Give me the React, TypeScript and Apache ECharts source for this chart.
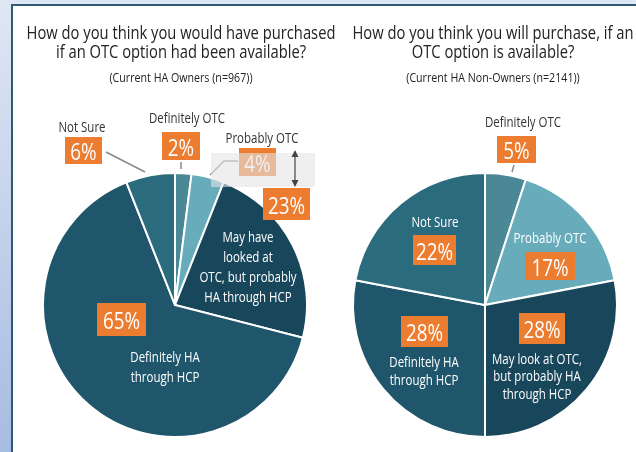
import React, { useEffect, useRef } from "react";
import * as echarts from "echarts";

// ---- data ----
const leftTitle = ["How do you think you would have purchased", "if an OTC option had been available?"];
const leftSubtitle = "(Current HA Owners (n=967))";
const rightTitle = ["How do you think you will purchase, if an", "OTC option is available?"];
const rightSubtitle = "(Current HA Non-Owners (n=2141))";

const leftNames = [
  "Definitely OTC",
  "Probably OTC",
  "May have\nlooked at\nOTC, but probably\nHA through HCP",
  "Definitely HA\nthrough HCP",
  "Not Sure",
];
const leftValues = [2, 4, 23, 65, 6];

const rightNames = [
  "Definitely OTC",
  "Probably OTC",
  "May look at OTC,\nbut probably HA\nthrough HCP",
  "Definitely HA\nthrough HCP",
  "Not Sure",
];
const rightValues = [5, 17, 28, 28, 22];

const sliceColors = ["#4a8896", "#68acbb", "#18465a", "#1f566c", "#2a6b7d"];

// ---- layout (annotation positions) ----
type L = { nx: number; ny: number; nc: string; lh: number; bx: number; by: number; bw: number; bh: number };
const leftLayout: L[] = [
  { nx: 187, ny: 118, nc: "#333", lh: 18, bx: 162, by: 132, bw: 38, bh: 28 },
  { nx: 262, ny: 138, nc: "#333", lh: 18, bx: 239, by: 148, bw: 37, bh: 28 },
  { nx: 248, ny: 267, nc: "#fff", lh: 20, bx: 263, by: 188, bw: 47, bh: 32 },
  { nx: 165, ny: 367, nc: "#fff", lh: 20, bx: 97, by: 303, bw: 49, bh: 33 },
  { nx: 82, ny: 127, nc: "#333", lh: 18, bx: 65, by: 137, bw: 37, bh: 27 },
];
const rightLayout: L[] = [
  { nx: 523, ny: 122, nc: "#333", lh: 18, bx: 497, by: 136, bw: 39, bh: 27 },
  { nx: 550, ny: 238, nc: "#fff", lh: 18, bx: 525, by: 252, bw: 50, bh: 28 },
  { nx: 537, ny: 376, nc: "#fff", lh: 17.5, bx: 519, by: 313, bw: 46, bh: 31 },
  { nx: 424, ny: 371, nc: "#fff", lh: 18, bx: 401, by: 316, bw: 47, bh: 31 },
  { nx: 435, ny: 222, nc: "#fff", lh: 18, bx: 413, by: 235, bw: 43, bh: 30 },
];

const FONT = "'Open Sans', 'Noto Sans', sans-serif";
const SX = 0.82; // horizontal condensing to mimic a condensed typeface
const ORANGE = "#ec7c30";

function labelGraphics(names: string[], values: number[], layout: L[]) {
  const els: any[] = [];
  names.forEach((n, i) => {
    const l = layout[i];
    els.push({
      type: "text",
      x: l.nx,
      y: l.ny,
      scaleX: SX,
      z: 100,
      style: {
        text: n,
        fill: l.nc,
        font: `14px ${FONT}`,
        align: "center",
        verticalAlign: "middle",
        lineHeight: l.lh,
      },
    });
    els.push({
      type: "rect",
      z: 100,
      shape: { x: l.bx, y: l.by, width: l.bw, height: l.bh },
      style: { fill: ORANGE },
    });
    els.push({
      type: "text",
      x: l.bx + l.bw / 2,
      y: l.by + l.bh / 2 + 1,
      scaleX: SX,
      z: 101,
      style: {
        text: `${values[i]}%`,
        fill: "#fff",
        font: `23px ${FONT}`,
        align: "center",
        verticalAlign: "middle",
      },
    });
  });
  return els;
}

export default function App() {
  const ref = useRef<HTMLDivElement>(null);
  useEffect(() => {
    if (!ref.current) return;
    const chart = echarts.init(ref.current, undefined, { renderer: "svg" });
    const mk = (names: string[], values: number[]) =>
      values.map((v, i) => ({ name: names[i], value: v, itemStyle: { color: sliceColors[i] } }));
    const titleEls = (lines: string[], sub: string, cx: number) => [
      {
        type: "text",
        x: cx,
        y: 41,
        scaleX: SX,
        z: 100,
        style: {
          text: lines.join("\n"),
          fill: "#222",
          font: `18px ${FONT}`,
          align: "center",
          verticalAlign: "middle",
          lineHeight: 19,
        },
      },
      {
        type: "text",
        x: cx,
        y: 77,
        scaleX: SX,
        z: 100,
        style: { text: sub, fill: "#222", font: `13px ${FONT}`, align: "center", verticalAlign: "middle" },
      },
    ];
    const line = (pts: number[][]) => ({
      type: "polyline",
      z: 99,
      shape: { points: pts },
      style: { stroke: "#8a8a8a", lineWidth: 1.5, fill: null },
    });
    chart.setOption({
      animation: false,
      graphic: [
        {
          type: "rect",
          z: -10,
          shape: { x: 0, y: 0, width: 636, height: 452 },
          style: {
            fill: new echarts.graphic.LinearGradient(0, 0, 0, 1, [
              { offset: 0, color: "#dfe7f4" },
              { offset: 1, color: "#a7bce2" },
            ]),
          },
        },
        {
          type: "rect",
          z: -9,
          shape: { x: 12, y: 5, width: 700, height: 500 },
          style: { fill: "#ffffff", stroke: "#2f5a73", lineWidth: 2 },
        },
        ...titleEls(leftTitle, leftSubtitle, 181),
        ...titleEls(rightTitle, rightSubtitle, 493),
        ...labelGraphics(leftNames, leftValues, leftLayout),
        ...labelGraphics(rightNames, rightValues, rightLayout),
        line([[106, 152], [145, 172]]),
        line([[181, 162], [181, 169]]),
        line([[238, 161], [224, 161], [210, 175]]),
        line([[514, 165], [512, 172]]),
        {
          type: "rect",
          z: 110,
          shape: { x: 211, y: 153, width: 104, height: 34 },
          style: { fill: "rgba(228,228,228,0.6)" },
        },
        {
          type: "line",
          z: 111,
          shape: { x1: 295, y1: 153, x2: 295, y2: 184 },
          style: { stroke: "#444", lineWidth: 1.2 },
        },
        {
          type: "polygon",
          z: 111,
          shape: { points: [[295, 150], [291.5, 157], [298.5, 157]] },
          style: { fill: "#444" },
        },
        {
          type: "polygon",
          z: 111,
          shape: { points: [[295, 187], [291.5, 180], [298.5, 180]] },
          style: { fill: "#444" },
        },
      ],
      series: [
        {
          type: "pie",
          center: [175, 305],
          radius: 132,
          startAngle: 90,
          clockwise: true,
          silent: true,
          label: { show: false },
          labelLine: { show: false },
          itemStyle: { borderColor: "#fff", borderWidth: 2 },
          data: mk(leftNames, leftValues),
        },
        {
          type: "pie",
          center: [485, 305],
          radius: 132,
          startAngle: 90,
          clockwise: true,
          silent: true,
          label: { show: false },
          labelLine: { show: false },
          itemStyle: { borderColor: "#fff", borderWidth: 2 },
          data: mk(rightNames, rightValues),
        },
      ],
    });
    return () => chart.dispose();
  }, []);
  return <div ref={ref} style={{ position: "fixed", left: 0, top: 0, width: 636, height: 452 }} />;
}
